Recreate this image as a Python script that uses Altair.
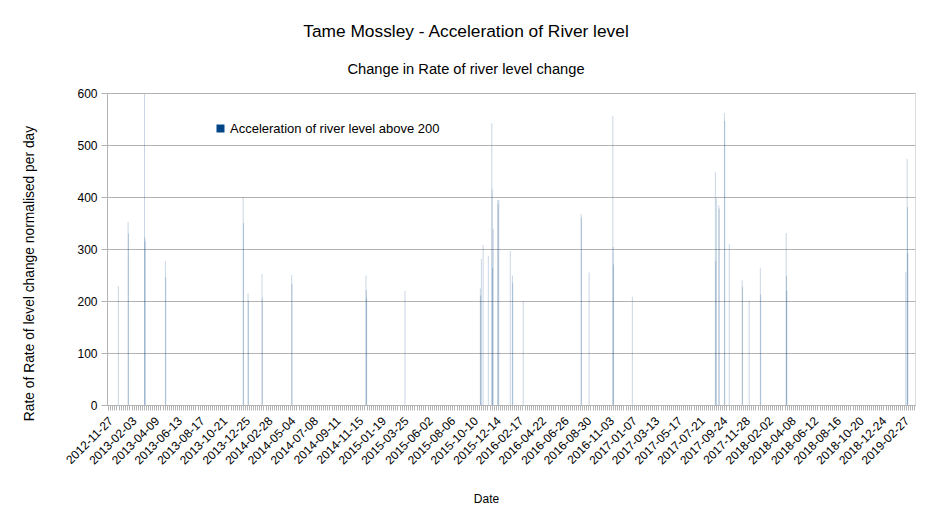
import altair as alt
import pandas as pd

# ---- data (date of bar, value) ----
dates = [
    "2012-12-21",
    "2013-01-18", "2013-01-19",
    "2013-03-06", "2013-03-07", "2013-03-08",
    "2013-05-05", "2013-05-06",
    "2013-12-14", "2013-12-15",
    "2013-12-28", "2013-12-29",
    "2014-02-06", "2014-02-07",
    "2014-05-02", "2014-05-03",
    "2014-12-01", "2014-12-02", "2014-12-03",
    "2015-03-23",
    "2015-10-25", "2015-10-26",
    "2015-10-28",
    "2015-11-02",
    "2015-11-17",
    "2015-11-27", "2015-11-28", "2015-11-29",
    "2015-12-01",
    "2015-12-14", "2015-12-15",
    "2015-12-17",
    "2016-01-19",
    "2016-01-25", "2016-01-26",
    "2016-02-25",
    "2016-08-09", "2016-08-10",
    "2016-09-01",
    "2016-11-08", "2016-11-09", "2016-11-10",
    "2017-01-03",
    "2017-08-29", "2017-08-30",
    "2017-09-01",
    "2017-09-08", "2017-09-09",
    "2017-09-24", "2017-09-25",
    "2017-10-08",
    "2017-11-14", "2017-11-15",
    "2017-12-04",
    "2018-01-05", "2018-01-06",
    "2018-03-20", "2018-03-21", "2018-03-22",
    "2019-02-26",
    "2019-03-02", "2019-03-03",
    "2019-03-04",
]
values = [
    229,
    352, 330,
    598, 322, 315,
    277, 246,
    400, 350,
    215, 200,
    252, 206,
    250, 233,
    249, 221, 206,
    219,
    224, 210,
    281,
    308,
    287,
    542, 415, 264,
    339,
    394, 386,
    394,
    296,
    249, 235,
    200,
    367, 360,
    255,
    556, 304, 270,
    208,
    448, 277,
    397,
    384, 378,
    561, 546,
    309,
    240, 227,
    201,
    263, 212,
    331, 248, 219,
    256,
    473, 381,
    292,
]
series_name = "Acceleration of river level above 200"

tick_labels = [
    "2012-11-27", "2013-02-03", "2013-04-09", "2013-06-13", "2013-08-17",
    "2013-10-21", "2013-12-25", "2014-02-28", "2014-05-04", "2014-07-08",
    "2014-09-11", "2014-11-15", "2015-01-19", "2015-03-25", "2015-06-02",
    "2015-08-06", "2015-10-10", "2015-12-14", "2016-02-17", "2016-04-22",
    "2016-06-26", "2016-08-30", "2016-11-03", "2017-01-07", "2017-03-13",
    "2017-05-17", "2017-07-21", "2017-09-24", "2017-11-28", "2018-02-02",
    "2018-04-08", "2018-06-12", "2018-08-16", "2018-10-20", "2018-12-24",
    "2019-02-27",
]

df = pd.DataFrame({"date": dates, "value": values, "series": series_name})


def ms(s):
    return int(pd.Timestamp(s, tz="UTC").value // 10**6)


dom_start = ms("2012-11-18T12:00:00")
dom_end = ms("2019-03-24T12:00:00")

# axis ticks: labelled major dates plus 10 minor subdivisions per interval
major_ms = [ms(d) for d in tick_labels]
tick_vals = []
DAY = 86400000
step0 = 65 * DAY / 11
t = major_ms[0] - step0
while t > dom_start:
    tick_vals.append(int(t))
    t -= step0
for a, b in zip(major_ms[:-1], major_ms[1:]):
    for k in range(11):
        tick_vals.append(int(a + (b - a) * k / 11))
tick_vals.append(major_ms[-1])
t = major_ms[-1] + step0
while t < dom_end:
    tick_vals.append(int(t))
    t += step0
tick_vals = sorted(tick_vals)

label_list = "[" + ",".join("'%s'" % d for d in tick_labels) + "]"
label_expr = (
    "indexof(%s, utcFormat(datum.value, '%%Y-%%m-%%d')) >= 0 ? "
    "utcFormat(datum.value, '%%Y-%%m-%%d') : ''" % label_list
)

FONT = "Liberation Sans"
GREY = "#b3b3b3"

chart = (
    alt.Chart(df)
    .mark_bar(width=1, opacity=0.22)
    .encode(
        x=alt.X(
            "date:T",
            scale=alt.Scale(type="utc", domain=[dom_start, dom_end], nice=False, padding=0),
            axis=alt.Axis(
                values=tick_vals,
                labelExpr=label_expr,
                labelAngle=-45,
                labelAlign="right",
                labelBaseline="top",
                labelOverlap=False,
                labelFlush=False,
                labelBound=False,
                labelPadding=5,
                labelOffset=-3,
                tickSize=5,
                tickColor=GREY,
                domainColor=GREY,
                grid=False,
                labelFont=FONT,
                labelFontSize=12,
                labelColor="black",
                title="Date",
                titleFont=FONT,
                titleFontSize=12,
                titleFontWeight="normal",
                titleX=379,
                titleY=93,
                titleBaseline="middle",
                titleAlign="center",
            ),
        ),
        y=alt.Y(
            "value:Q",
            stack=None,
            scale=alt.Scale(domain=[0, 600], nice=False),
            axis=alt.Axis(
                values=[0, 100, 200, 300, 400, 500, 600],
                grid=True,
                gridColor=GREY,
                tickSize=6,
                tickColor=GREY,
                domainColor=GREY,
                labelFont=FONT,
                labelFontSize=12,
                labelColor="black",
                labelPadding=4,
                title="Rate of Rate of level change normalised per day",
                titleFont=FONT,
                titleFontSize=13.8,
                titleFontWeight="normal",
                titleX=-78,
                titleY=180,
                titleBaseline="middle",
                titleAlign="center",
            ),
        ),
        color=alt.Color(
            "series:N",
            scale=alt.Scale(range=["#004586"]),
            legend=alt.Legend(
                title=None,
                orient="none",
                legendX=107,
                legendY=29,
                symbolType="square",
                symbolSize=64,
                symbolOpacity=1,
                symbolStrokeWidth=0,
                labelFont=FONT,
                labelFontSize=13,
                labelColor="black",
                labelLimit=0,
                padding=0,
                labelOffset=3,
            ),
        ),
    )
    .properties(
        width=808,
        height=312,
        autosize=alt.AutoSizeParams(type="none"),
        padding={"left": 99, "top": 85, "right": 10, "bottom": 100},
        title=alt.TitleParams(
            text="Tame Mossley - Acceleration of River level",
            subtitle="Change in Rate of river level change",
            anchor="middle",
            frame="group",
            dx=-45,
            offset=10,
            font=FONT,
            fontSize=17.33,
            fontWeight="normal",
            color="black",
            subtitleFont=FONT,
            subtitleFontSize=14.67,
            subtitleColor="black",
            subtitlePadding=22,
        ),
    )
    .configure_view(stroke=GREY, strokeWidth=1)
    .configure(background="white")
)

chart.save("out.html", embed_options={"renderer": "svg", "actions": False})
